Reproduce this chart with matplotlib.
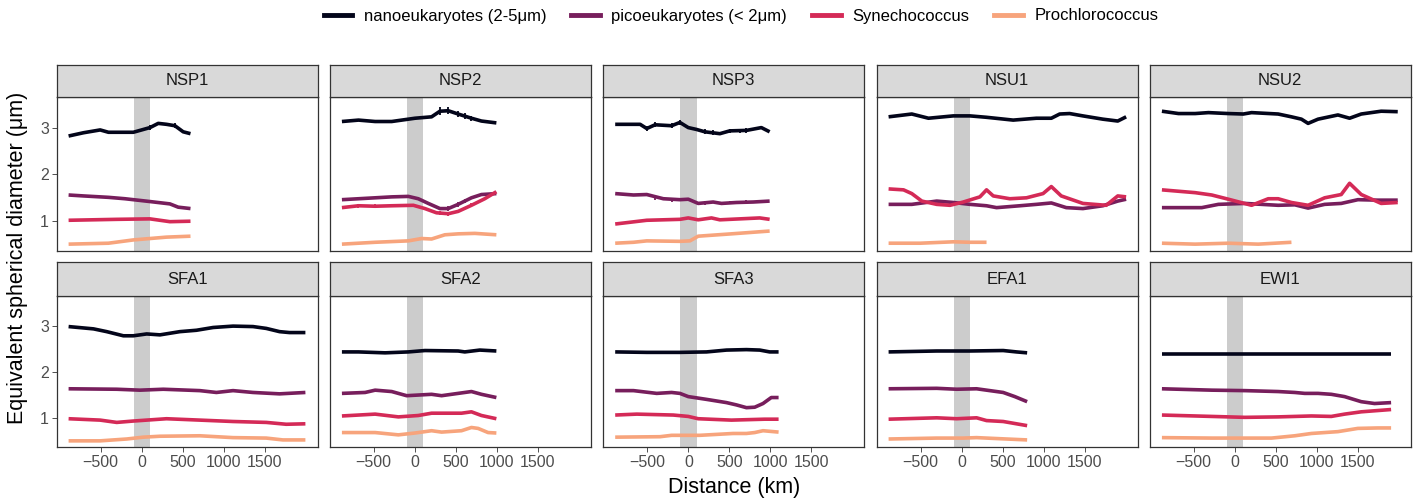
import matplotlib
matplotlib.use('Agg')
import matplotlib.pyplot as plt
from matplotlib.lines import Line2D

plt.rcParams['font.family'] = ['Liberation Sans', 'DejaVu Sans']

# facets and groups
panels = ['NSP1', 'NSP2', 'NSP3', 'NSU1', 'NSU2',
          'SFA1', 'SFA2', 'SFA3', 'EFA1', 'EWI1']
groups = ['nanoeukaryotes (2-5μm)', 'picoeukaryotes (< 2μm)',
          'Synechococcus', 'Prochlorococcus']
colors = ['#03051A', '#771E5C', '#D42A57', '#F7A47C']

# distance (km), equivalent spherical diameter (um)
nano = {
    'NSP1': ([-892, -710, -507, -406, -103, 100, 201, 302, 404, 505, 594],
             [2.82, 2.89, 2.95, 2.90, 2.90, 3.00, 3.09, 3.07, 3.04, 2.91, 2.87]),
    'NSP2': ([-888, -686, -483, -281, -159, 3, 205, 307, 408, 529, 691, 813, 995],
             [3.13, 3.16, 3.13, 3.13, 3.16, 3.20, 3.23, 3.35, 3.36, 3.29, 3.20, 3.14, 3.10]),
    'NSP3': ([-892, -588, -507, -406, -204, -103, -1, 100, 201, 384, 505, 708, 890, 991],
             [3.07, 3.07, 2.98, 3.06, 3.04, 3.11, 3.00, 2.96, 2.91, 2.87, 2.93, 2.94, 3.00, 2.91]),
    'NSU1': ([-892, -609, -406, -103, 100, 302, 627, 910, 1092, 1194, 1315, 1477, 1720, 1902, 2004],
             [3.23, 3.29, 3.20, 3.25, 3.25, 3.22, 3.16, 3.20, 3.20, 3.29, 3.30, 3.25, 3.18, 3.14, 3.23]),
    'NSU2': ([-888, -686, -483, -321, -78, 104, 205, 529, 691, 813, 894, 1015, 1258, 1400, 1542, 1785, 1987],
             [3.35, 3.30, 3.30, 3.32, 3.30, 3.29, 3.32, 3.29, 3.23, 3.18, 3.09, 3.18, 3.27, 3.20, 3.29, 3.35, 3.34]),
    'SFA1': ([-892, -588, -427, -224, -103, 60, 222, 465, 667, 870, 1113, 1356, 1518, 1680, 1801, 1995],
             [2.99, 2.94, 2.88, 2.79, 2.79, 2.83, 2.81, 2.88, 2.91, 2.97, 3.00, 2.99, 2.95, 2.88, 2.86, 2.86]),
    'SFA2': ([-888, -686, -362, -78, 124, 529, 610, 793, 995],
             [2.44, 2.44, 2.42, 2.44, 2.47, 2.46, 2.44, 2.48, 2.46]),
    'SFA3': ([-892, -507, -103, 222, 465, 708, 870, 991, 1100],
             [2.44, 2.43, 2.43, 2.44, 2.48, 2.49, 2.48, 2.44, 2.44]),
    'EFA1': ([-892, -305, 100, 505, 667, 797],
             [2.44, 2.46, 2.46, 2.47, 2.44, 2.42]),
    'EWI1': ([-888, -281, 124, 529, 1015, 1500, 1906],
             [2.39, 2.39, 2.39, 2.39, 2.39, 2.39, 2.39]),
}

pico = {
    'NSP1': ([-892, -710, -406, -204, 100, 343, 444, 594],
             [1.56, 1.54, 1.51, 1.48, 1.42, 1.37, 1.30, 1.27]),
    'NSP2': ([-888, -686, -483, -281, -78, 43, 165, 307, 408, 529, 691, 813, 995],
             [1.46, 1.48, 1.50, 1.52, 1.53, 1.48, 1.38, 1.27, 1.27, 1.36, 1.50, 1.57, 1.59]),
    'NSP3': ([-892, -669, -507, -305, -103, -1, 120, 302, 404, 586, 789, 991],
             [1.59, 1.56, 1.57, 1.48, 1.46, 1.47, 1.38, 1.41, 1.38, 1.40, 1.41, 1.43]),
    'NSU1': ([-892, -609, -305, -103, 100, 302, 424, 708, 910, 1092, 1274, 1477, 1720, 1902, 2004],
             [1.36, 1.36, 1.43, 1.40, 1.36, 1.33, 1.29, 1.33, 1.36, 1.39, 1.29, 1.27, 1.33, 1.43, 1.47]),
    'NSU2': ([-888, -402, -200, 124, 529, 732, 894, 1096, 1298, 1502, 1745, 1987],
             [1.29, 1.29, 1.36, 1.38, 1.34, 1.35, 1.28, 1.36, 1.38, 1.46, 1.45, 1.45]),
    'SFA1': ([-892, -305, -22, 262, 708, 910, 1113, 1356, 1680, 1995],
             [1.64, 1.63, 1.61, 1.63, 1.60, 1.56, 1.60, 1.56, 1.53, 1.56]),
    'SFA2': ([-888, -605, -483, -281, -99, 205, 327, 529, 691, 813, 995],
             [1.54, 1.56, 1.61, 1.58, 1.49, 1.52, 1.49, 1.54, 1.58, 1.52, 1.45]),
    'SFA3': ([-892, -669, -386, -204, -103, -1, 222, 465, 586, 708, 809, 910, 1011, 1100],
             [1.60, 1.60, 1.54, 1.56, 1.54, 1.47, 1.41, 1.34, 1.29, 1.23, 1.24, 1.32, 1.45, 1.45]),
    'EFA1': ([-892, -305, -62, 181, 505, 647, 797],
             [1.64, 1.65, 1.63, 1.64, 1.56, 1.47, 1.36]),
    'EWI1': ([-888, -281, 124, 529, 732, 853, 1015, 1177, 1339, 1542, 1704, 1906],
             [1.64, 1.61, 1.60, 1.58, 1.56, 1.54, 1.54, 1.52, 1.47, 1.36, 1.32, 1.34]),
}

syn = {
    'NSP1': ([-892, -305, 100, 343, 594],
             [1.02, 1.04, 1.05, 0.99, 1.00]),
    'NSP2': ([-888, -686, -483, -281, -17, 124, 265, 408, 529, 691, 853, 995],
             [1.29, 1.33, 1.32, 1.33, 1.34, 1.27, 1.18, 1.16, 1.21, 1.34, 1.48, 1.63]),
    'NSP3': ([-892, -507, -103, -1, 120, 282, 384, 627, 870, 991],
             [0.94, 1.02, 1.04, 1.07, 1.03, 1.07, 1.03, 1.05, 1.07, 1.04]),
    'NSU1': ([-892, -710, -609, -487, -305, -143, 19, 221, 302, 384, 586, 789, 991, 1092, 1213, 1477, 1761, 1902, 2004],
             [1.69, 1.67, 1.59, 1.43, 1.36, 1.34, 1.41, 1.52, 1.67, 1.54, 1.48, 1.50, 1.59, 1.74, 1.54, 1.38, 1.34, 1.54, 1.52]),
    'NSU2': ([-888, -483, -281, -78, 205, 408, 529, 691, 894, 1096, 1298, 1400, 1542, 1785, 1987],
             [1.67, 1.61, 1.56, 1.47, 1.34, 1.48, 1.48, 1.40, 1.34, 1.50, 1.57, 1.81, 1.57, 1.38, 1.40]),
    'SFA1': ([-892, -507, -305, -103, 302, 708, 1113, 1518, 1761, 1995],
             [0.99, 0.96, 0.91, 0.94, 0.99, 0.96, 0.93, 0.91, 0.87, 0.88]),
    'SFA2': ([-888, -483, -200, 43, 205, 570, 691, 813, 995],
             [1.05, 1.09, 1.03, 1.06, 1.11, 1.11, 1.14, 1.06, 0.99]),
    'SFA3': ([-892, -629, -184, -1, 120, 525, 930, 1100],
             [1.07, 1.09, 1.07, 1.04, 0.99, 0.96, 0.98, 0.98]),
    'EFA1': ([-892, -305, -62, 181, 302, 505, 797],
             [0.98, 1.01, 0.99, 1.01, 0.95, 0.93, 0.84]),
    'EWI1': ([-888, -281, 124, 529, 934, 1177, 1339, 1542, 1906],
             [1.07, 1.04, 1.02, 1.03, 1.05, 1.04, 1.09, 1.14, 1.19]),
}

pro = {
    'NSP1': ([-892, -406, -103, 302, 594],
             [0.51, 0.53, 0.60, 0.66, 0.68]),
    'NSP2': ([-888, -483, -78, 84, 205, 367, 529, 732, 995],
             [0.51, 0.55, 0.58, 0.63, 0.62, 0.71, 0.73, 0.74, 0.71]),
    'NSP3': ([-892, -669, -507, -103, 19, 120, 525, 991],
             [0.53, 0.55, 0.58, 0.57, 0.58, 0.68, 0.73, 0.79]),
    'NSU1': ([-892, -507, -103, 100, 302],
             [0.53, 0.53, 0.56, 0.55, 0.55]),
    'NSU2': ([-888, -483, -78, 286, 691],
             [0.53, 0.51, 0.53, 0.51, 0.55]),
    'SFA1': ([-892, -507, -184, 19, 222, 708, 1113, 1518, 1721, 1995],
             [0.51, 0.51, 0.55, 0.59, 0.61, 0.62, 0.58, 0.57, 0.53, 0.53]),
    'SFA2': ([-888, -483, -200, 3, 205, 327, 570, 691, 772, 894, 995],
             [0.69, 0.69, 0.64, 0.68, 0.73, 0.70, 0.73, 0.80, 0.78, 0.69, 0.68]),
    'SFA3': ([-892, -345, -204, 140, 545, 708, 809, 910, 1100],
             [0.59, 0.60, 0.63, 0.63, 0.67, 0.67, 0.69, 0.73, 0.70]),
    'EFA1': ([-892, -305, 19, 181, 424, 797],
             [0.55, 0.57, 0.57, 0.58, 0.56, 0.53]),
    'EWI1': ([-888, -281, 448, 732, 934, 1258, 1500, 1745, 1906],
             [0.58, 0.57, 0.57, 0.62, 0.67, 0.71, 0.78, 0.79, 0.79]),
}

# small error bars (x, y, half-width) visible in the NSP panels
nano_err = {
    'NSP1': ([100, 404], [3.00, 3.04], [0.05, 0.05]),
    'NSP2': ([307, 408, 529, 610, 691], [3.35, 3.36, 3.29, 3.25, 3.20], [0.08, 0.08, 0.07, 0.06, 0.05]),
    'NSP3': ([-507, -406, -204, -103, 201, 302, 505, 627, 708],
             [2.98, 3.06, 3.04, 3.11, 2.91, 2.90, 2.93, 2.93, 2.94], [0.05] * 9),
}
pico_err = {
    'NSP2': ([408, 529, 610], [1.27, 1.36, 1.43], [0.05, 0.05, 0.05]),
    'NSP3': ([-588, -406, -204, 201, 404, 505, 708], [1.57, 1.50, 1.46, 1.39, 1.38, 1.40, 1.41], [0.04] * 7),
}
syn_err = {
    'NSP2': ([-686, -483, 307, 408, 529, 691], [1.33, 1.32, 1.17, 1.16, 1.21, 1.34], [0.04] * 6),
}

series = [nano, pico, syn, pro]
errors = [nano_err, pico_err, syn_err, {}]

W, H = 1414, 501
fig = plt.figure(figsize=(W / 100, H / 100), dpi=100)

col_left = [56.7, 329.7, 603.3, 876.7, 1149.7]
pw = 261
rows = [(65, 96.7, 250.7), (262.3, 295.7, 447.3)]  # strip top, plot top, plot bottom

border = '#333333'
for i, name in enumerate(panels):
    r, c = divmod(i, 5)
    s_top, p_top, p_bot = rows[r]
    x0 = col_left[c]
    ax = fig.add_axes([x0 / W, 1 - p_bot / H, pw / W, (p_bot - p_top) / H])
    sx = fig.add_axes([x0 / W, 1 - p_top / H, pw / W, (p_top - s_top) / H])

    ax.axvspan(-100, 100, color='#CCCCCC', lw=0, zorder=0)
    for k in range(4):
        xs, ys = series[k][name]
        ax.plot(xs, ys, color=colors[k], lw=2.6, solid_capstyle='butt',
                solid_joinstyle='round', zorder=2 + k * 0.01)
        if name in errors[k]:
            ex, ey, ee = errors[k][name]
            ax.errorbar(ex, ey, yerr=ee, fmt='none', ecolor=colors[k],
                        elinewidth=1.3, capsize=0, zorder=3)

    ax.set_xlim(-1037, 2145)
    ax.set_ylim(0.37, 3.66)
    ax.set_xticks([-500, 0, 500, 1000, 1500])
    ax.set_yticks([1, 2, 3])
    ax.tick_params(length=3.5, width=0.6, color=border, labelcolor='#4D4D4D',
                   labelsize=11.5, pad=2)
    if r == 0:
        ax.tick_params(axis='x', bottom=False, labelbottom=False)
    if c != 0:
        ax.tick_params(axis='y', left=False, labelleft=False)
    for sp in ax.spines.values():
        sp.set_color(border)
        sp.set_linewidth(0.9)

    sx.set_facecolor('#D9D9D9')
    sx.set_xticks([])
    sx.set_yticks([])
    for sp in sx.spines.values():
        sp.set_color(border)
        sp.set_linewidth(0.9)
    sx.text(0.5, 0.5, name, ha='center', va='center', fontsize=12,
            color='#1A1A1A', transform=sx.transAxes)

fig.text(734 / W, 1 - 488 / H, 'Distance (km)', ha='center', va='center',
         fontsize=15.5, color='black')
fig.text(18 / W, 1 - 258 / H, 'Equivalent spherical diameter (μm)',
         ha='center', va='center', rotation=90, fontsize=15.5, color='black')

handles = [Line2D([], [], color=col, lw=3.5) for col in colors]
fig.legend(handles, groups, loc='center', bbox_to_anchor=(741 / W, 1 - 16 / H),
           ncol=4, frameon=False, fontsize=12, handlelength=1.7,
           handletextpad=0.7, columnspacing=1.5)

fig.savefig('out.png', dpi=100)
